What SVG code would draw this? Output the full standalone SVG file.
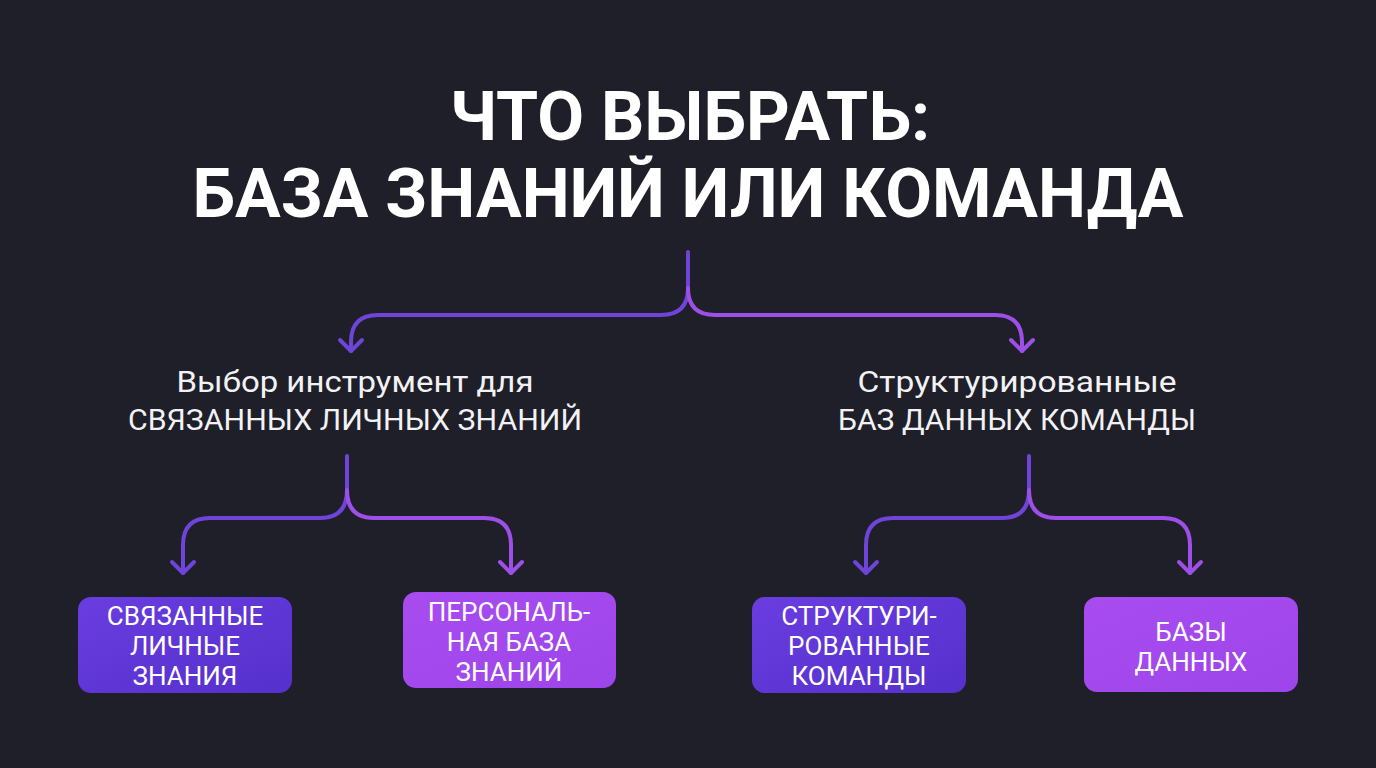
<svg xmlns="http://www.w3.org/2000/svg" width="1376" height="768" viewBox="0 0 1376 768">
<defs>
<style>
.title{font-family:Roboto,"Liberation Sans",sans-serif;font-weight:700;font-size:68px;fill:#ffffff;text-anchor:middle}
.sub{font-family:Roboto,"Liberation Sans",sans-serif;font-weight:400;font-size:29px;fill:#f2f2f5;text-anchor:middle}
.box{font-family:Roboto,"Liberation Sans",sans-serif;font-weight:400;font-size:26px;fill:#ffffff;text-anchor:middle}
.c{fill:none;stroke-width:4;stroke-linecap:round;stroke-linejoin:round}
.cb{stroke:#6e45d8}
.cp{stroke:#9d4fe8}
</style>
<linearGradient id="gb" x1="0" y1="0" x2="1" y2="1"><stop offset="0" stop-color="#6a3de0"/><stop offset="1" stop-color="#5530cc"/></linearGradient>
<linearGradient id="gp" x1="0" y1="0" x2="1" y2="1"><stop offset="0" stop-color="#a84cf0"/><stop offset="1" stop-color="#9d45ea"/></linearGradient>
<marker id="ab" markerUnits="userSpaceOnUse" markerWidth="30" markerHeight="30" viewBox="-15 -15 30 30" refX="0" refY="0" orient="auto"><path d="M-11,-11 L0,0 L-11,11" fill="none" stroke="#6e45d8" stroke-width="4" stroke-linecap="round" stroke-linejoin="round"/></marker>
<marker id="ap" markerUnits="userSpaceOnUse" markerWidth="30" markerHeight="30" viewBox="-15 -15 30 30" refX="0" refY="0" orient="auto"><path d="M-11,-11 L0,0 L-11,11" fill="none" stroke="#9d4fe8" stroke-width="4" stroke-linecap="round" stroke-linejoin="round"/></marker>
</defs>
<rect width="1376" height="768" fill="#1e1f28"/>
<g id="title">
<text class="title" x="690" y="140">ЧТО ВЫБРАТЬ:</text>
<text class="title" x="688" y="217">БАЗА ЗНАНИЙ ИЛИ КОМАНДА</text>
</g>
<g id="connectors">
<path class="c cb" d="M688,252 V290"/>
<path class="c cb" d="M688,288 Q688,315 661,315 H378 Q351,315 351,342 V351" marker-end="url(#ab)"/>
<path class="c cp" d="M688,288 Q688,315 715,315 H995 Q1022,315 1022,342 V351" marker-end="url(#ap)"/>
<path class="c cb" d="M347,456 V492"/>
<path class="c cb" d="M347,490 Q347,518 320,518 H210 Q183,518 183,545 V573" marker-end="url(#ab)"/>
<path class="c cp" d="M347,490 Q347,518 374,518 H484 Q511,518 511,545 V573" marker-end="url(#ap)"/>
<path class="c cb" d="M1029,456 V492"/>
<path class="c cb" d="M1029,490 Q1029,518 1002,518 H893 Q866,518 866,545 V573" marker-end="url(#ab)"/>
<path class="c cp" d="M1029,490 Q1029,518 1056,518 H1163 Q1190,518 1190,545 V573" marker-end="url(#ap)"/>
</g>
<g id="sub-left">
<text class="sub" x="355" y="392" textLength="357" lengthAdjust="spacingAndGlyphs">Выбор инструмент для</text>
<text class="sub" x="355" y="430" textLength="454" lengthAdjust="spacingAndGlyphs">СВЯЗАННЫХ ЛИЧНЫХ ЗНАНИЙ</text>
</g>
<g id="sub-right">
<text class="sub" x="1017" y="392" textLength="319" lengthAdjust="spacingAndGlyphs">Структурированные</text>
<text class="sub" x="1017" y="430" textLength="358" lengthAdjust="spacingAndGlyphs">БАЗ ДАННЫХ КОМАНДЫ</text>
</g>
<g id="node1">
<rect x="78" y="597" width="214" height="96" rx="13" fill="url(#gb)"/>
<text class="box" x="185" y="625">СВЯЗАННЫЕ</text>
<text class="box" x="185" y="655">ЛИЧНЫЕ</text>
<text class="box" x="185" y="685">ЗНАНИЯ</text>
</g>
<g id="node2">
<rect x="403" y="592" width="213" height="96" rx="13" fill="url(#gp)"/>
<text class="box" x="509" y="621">ПЕРСОНАЛЬ-</text>
<text class="box" x="509" y="651">НАЯ БАЗА</text>
<text class="box" x="509" y="681">ЗНАНИЙ</text>
</g>
<g id="node3">
<rect x="752" y="597" width="214" height="96" rx="13" fill="url(#gb)"/>
<text class="box" x="859" y="625">СТРУКТУРИ-</text>
<text class="box" x="859" y="655">РОВАННЫЕ</text>
<text class="box" x="859" y="685">КОМАНДЫ</text>
</g>
<g id="node4">
<rect x="1084" y="597" width="214" height="95" rx="13" fill="url(#gp)"/>
<text class="box" x="1191" y="641">БАЗЫ</text>
<text class="box" x="1191" y="671">ДАННЫХ</text>
</g>
</svg>
